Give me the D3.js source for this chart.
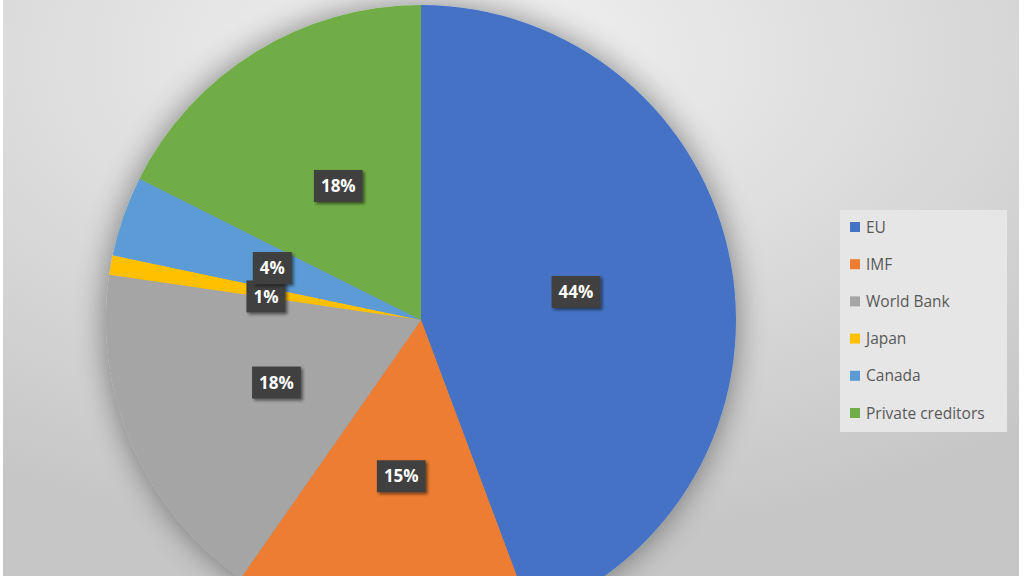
<!DOCTYPE html>
<html>
<head>
<meta charset="utf-8">
<script src="https://cdn.jsdelivr.net/npm/d3@7/dist/d3.min.js"></script>
<style>
  html, body { margin: 0; padding: 0; background: #fff; }
  svg { display: block; font-family: "Open Sans", "Noto Sans", sans-serif; }
</style>
</head>
<body>
<div id="chart"></div>
<script>
const categories = ["EU", "IMF", "World Bank", "Japan", "Canada", "Private creditors"];
const shares = [44.3, 15.4, 17.6, 1.0, 4.1, 17.6];
const colours = ["#4472c4", "#ed7d31", "#a5a5a5", "#ffc000", "#5b9bd5", "#70ad47"];

const width = 1024, height = 576;
const cx = 421, cy = 320, radius = 315;

const svg = d3.select("#chart").append("svg")
  .attr("width", width)
  .attr("height", height);

const defs = svg.append("defs");

// soft background, lighter towards the top middle
const bg = defs.append("radialGradient")
  .attr("id", "bg")
  .attr("cx", "45%").attr("cy", "10%").attr("r", "85%");
bg.append("stop").attr("offset", "0%").attr("stop-color", "#f3f3f3");
bg.append("stop").attr("offset", "100%").attr("stop-color", "#c6c6c6");

const glow = defs.append("filter").attr("id", "glow")
  .attr("x", "-20%").attr("y", "-20%").attr("width", "140%").attr("height", "140%");
glow.append("feGaussianBlur").attr("in", "SourceAlpha").attr("stdDeviation", 16);
glow.append("feComponentTransfer").append("feFuncA").attr("type", "linear").attr("slope", 0.45);
const gm = glow.append("feMerge");
gm.append("feMergeNode");
gm.append("feMergeNode").attr("in", "SourceGraphic");

const boxShadow = defs.append("filter").attr("id", "boxShadow")
  .attr("x", "-20%").attr("y", "-20%").attr("width", "150%").attr("height", "160%");
boxShadow.append("feDropShadow")
  .attr("dx", 2).attr("dy", 2).attr("stdDeviation", 1.5)
  .attr("flood-color", "#000").attr("flood-opacity", 0.5);

svg.append("rect")
  .attr("x", 3).attr("y", 0)
  .attr("width", width - 8).attr("height", height)
  .attr("fill", "url(#bg)");

const pie = d3.pie().sort(null).value((d) => d.value);
const arcs = pie(categories.map((c, i) => ({ name: c, value: shares[i], color: colours[i] })));

const arc = d3.arc().innerRadius(0).outerRadius(radius);
const labelArc = d3.arc().innerRadius(radius * 0.5).outerRadius(radius * 0.5);

const g = svg.append("g").attr("transform", `translate(${cx},${cy})`);

g.append("g")
  .attr("filter", "url(#glow)")
  .selectAll("path")
  .data(arcs)
  .join("path")
  .attr("d", arc)
  .attr("fill", (d) => d.data.color);

// data labels
const labelNudge = { "Japan": [0, 4] };
const labels = g.selectAll(".lbl")
  .data(arcs)
  .join("g")
  .attr("class", "lbl")
  .attr("transform", (d) => {
    const [x, y] = labelArc.centroid(d);
    const n = labelNudge[d.data.name] || [0, 0];
    return `translate(${x + n[0]},${y + n[1]})`;
  });

labels.append("text")
  .attr("text-anchor", "middle")
  .attr("dy", "0.36em")
  .attr("fill", "#fff")
  .attr("font-size", 17)
  .attr("font-weight", "bold")
  .text((d) => Math.round(d.data.value) + "%");

labels.each(function () {
  const t = d3.select(this).select("text");
  const b = t.node().getBBox();
  d3.select(this).insert("rect", "text")
    .attr("x", b.x - 7).attr("y", -16)
    .attr("width", b.width + 14).attr("height", 32)
    .attr("fill", "#404040")
    .attr("filter", "url(#boxShadow)");
});

// legend
const legend = svg.append("g").attr("transform", "translate(840,210)");
legend.append("rect")
  .attr("width", 167).attr("height", 222)
  .attr("fill", "#e6e6e6");

const legendY = d3.scalePoint().domain(categories).range([17, 203]);

const items = legend.selectAll(".item")
  .data(categories)
  .join("g")
  .attr("class", "item")
  .attr("transform", (d) => `translate(0,${legendY(d)})`);

items.append("rect")
  .attr("x", 10).attr("y", -5)
  .attr("width", 10).attr("height", 10)
  .attr("fill", (d, i) => colours[i]);

items.append("text")
  .attr("x", 26)
  .attr("dy", "0.36em")
  .attr("font-size", 15.5)
  .attr("fill", "#595959")
  .text((d) => d);
</script>
</body>
</html>
